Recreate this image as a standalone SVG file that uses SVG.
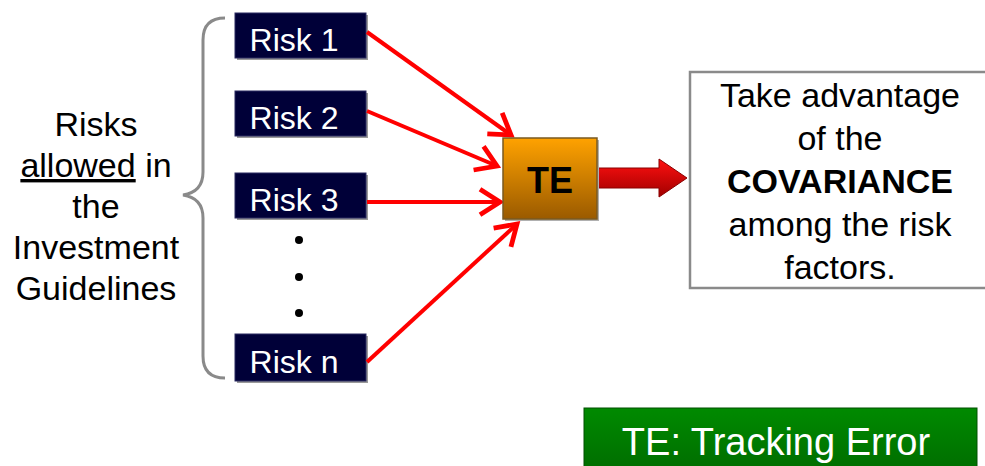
<svg xmlns="http://www.w3.org/2000/svg" width="985" height="466" viewBox="0 0 985 466">
<defs>
<linearGradient id="gOrange" x1="0" y1="0" x2="0" y2="1">
<stop offset="0" stop-color="#FFA200"/>
<stop offset="1" stop-color="#9A5A00"/>
</linearGradient>
<linearGradient id="gRed" x1="0" y1="0" x2="0" y2="1">
<stop offset="0" stop-color="#FF1010"/>
<stop offset="1" stop-color="#A00000"/>
</linearGradient>
<linearGradient id="gGreen" x1="0" y1="0" x2="0" y2="1">
<stop offset="0" stop-color="#008A00"/>
<stop offset="1" stop-color="#006A00"/>
</linearGradient>
<marker id="vArrow" markerWidth="8" markerHeight="8" refX="6" refY="4" orient="auto" markerUnits="strokeWidth">
<path d="M1,0.8 L6,4 L1,7.2" fill="none" stroke="#FF0000" stroke-width="1.2"/>
</marker>
</defs>
<style>
.risk rect.bg{fill:#000038;stroke:#2a2a60;stroke-width:1}
.risk rect.sh{fill:#9a9a9a}
.risk text{font-family:"Liberation Sans",Arial,sans-serif;font-size:32px;fill:#ffffff;text-anchor:middle}
.lbl{font-family:"Liberation Sans",Arial,sans-serif;font-size:34px;fill:#000;text-anchor:middle}
.conn line{stroke:#FF0000;stroke-width:4;marker-end:url(#vArrow)}
</style>
<rect width="985" height="466" fill="#ffffff"/>

<g id="brace">
<path d="M225,18 Q203,18 203,40 L203,172 Q203,192 183,195 Q203,198 203,218 L203,356 Q203,378 225,378" fill="none" stroke="#8a8a8a" stroke-width="3"/>
</g>

<g id="label-left">
<text class="lbl" x="96" y="136">Risks</text>
<text class="lbl" x="96" y="177"><tspan text-decoration="underline">allowed</tspan> in</text>
<text class="lbl" x="96" y="218">the</text>
<text class="lbl" x="96" y="259">Investment</text>
<text class="lbl" x="96" y="300">Guidelines</text>
</g>

<g id="risk1" class="risk">
<rect class="sh" x="237" y="15" width="131" height="45"/>
<rect class="bg" x="235" y="13" width="131" height="45"/>
<text x="294" y="51">Risk 1</text>
</g>
<g id="risk2" class="risk">
<rect class="sh" x="237" y="93" width="131" height="45"/>
<rect class="bg" x="235" y="91" width="131" height="45"/>
<text x="294" y="129">Risk 2</text>
</g>
<g id="risk3" class="risk">
<rect class="sh" x="237" y="175" width="131" height="45"/>
<rect class="bg" x="235" y="173" width="131" height="45"/>
<text x="294" y="211">Risk 3</text>
</g>
<g id="dots">
<circle cx="299" cy="240" r="4" fill="#000"/>
<circle cx="299" cy="277" r="4" fill="#000"/>
<circle cx="299" cy="313" r="4" fill="#000"/>
</g>
<g id="riskn" class="risk">
<rect class="sh" x="237" y="336" width="131" height="47"/>
<rect class="bg" x="235" y="334" width="131" height="47"/>
<text x="294" y="373">Risk n</text>
</g>

<g id="connectors" class="conn">
<line x1="367" y1="32" x2="511" y2="135"/>
<line x1="367" y1="111" x2="497" y2="166"/>
<line x1="367" y1="202" x2="500" y2="202"/>
<line x1="367" y1="362" x2="517" y2="224"/>
<path d="M597,168 L659,168 L659,159 L687,178 L659,197 L659,188 L597,188 Z" fill="url(#gRed)" stroke="#8a0000" stroke-width="1"/>
</g>

<g id="te">
<rect x="505" y="140" width="94" height="81" fill="#b0b0b0"/>
<rect x="503" y="138" width="94" height="81" fill="url(#gOrange)" stroke="#7a5a20" stroke-width="1.5"/>
<text x="550" y="193" font-family="'Liberation Sans',Arial,sans-serif" font-size="36" font-weight="bold" fill="#000" text-anchor="middle">TE</text>
</g>

<g id="result">
<rect x="690" y="72" width="300" height="216" fill="#ffffff" stroke="#8a8a8a" stroke-width="2.5"/>
<text class="lbl" x="840" y="107" font-size="35">Take advantage</text>
<text class="lbl" x="840" y="150" font-size="35">of the</text>
<text class="lbl" x="840" y="193" font-size="34" font-weight="bold">COVARIANCE</text>
<text class="lbl" x="840" y="236" font-size="35">among the risk</text>
<text class="lbl" x="840" y="279" font-size="35">factors.</text>
</g>

<g id="legend">
<rect x="584" y="408" width="393" height="70" fill="url(#gGreen)" stroke="#005000" stroke-width="1"/>
<text x="776" y="455" font-family="'Liberation Sans',Arial,sans-serif" font-size="38" fill="#ffffff" text-anchor="middle">TE: Tracking Error</text>
</g>
</svg>
